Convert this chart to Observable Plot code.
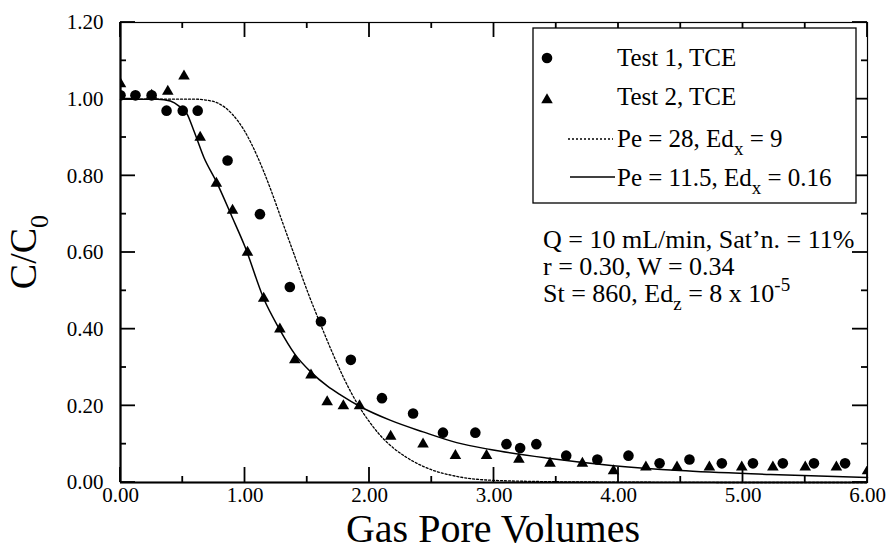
<!DOCTYPE html>
<html><head><meta charset="utf-8">
<script src="https://cdn.jsdelivr.net/npm/d3@7"></script>
<script src="https://cdn.jsdelivr.net/npm/@observablehq/plot@0.6"></script>
<style>
body{margin:0;background:#fff;}
#chart{width:887px;height:552px;}
</style></head><body><div id="chart"></div>
<script>
// Test 1, TCE (circles)
const test1X = [0.00, 0.12, 0.25, 0.37, 0.50, 0.62, 0.86, 1.12, 1.36, 1.61, 1.85, 2.10, 2.35, 2.59, 2.85, 3.10, 3.21, 3.34, 3.58, 3.83, 4.08, 4.33, 4.57, 4.83, 5.08, 5.32, 5.57, 5.82];
const test1Y = [1.01, 1.01, 1.01, 0.97, 0.97, 0.97, 0.84, 0.70, 0.51, 0.42, 0.32, 0.22, 0.18, 0.13, 0.13, 0.10, 0.09, 0.10, 0.07, 0.06, 0.07, 0.05, 0.06, 0.05, 0.05, 0.05, 0.05, 0.05];
// Test 2, TCE (triangles)
const test2X = [0.00, 0.25, 0.38, 0.51, 0.64, 0.77, 0.90, 1.02, 1.15, 1.28, 1.40, 1.53, 1.66, 1.79, 1.92, 2.17, 2.43, 2.69, 2.94, 3.20, 3.45, 3.71, 3.96, 4.22, 4.47, 4.73, 4.99, 5.24, 5.50, 5.75, 6.00];
const test2Y = [1.04, 1.01, 1.02, 1.06, 0.90, 0.78, 0.71, 0.60, 0.48, 0.40, 0.32, 0.28, 0.21, 0.20, 0.20, 0.12, 0.10, 0.07, 0.07, 0.06, 0.05, 0.05, 0.03, 0.04, 0.04, 0.04, 0.04, 0.04, 0.04, 0.04, 0.03];
// Model: Pe = 28, Edx = 9 (dotted)
const fitAX = [0.00, 0.60, 0.70, 0.78, 0.90, 1.00, 1.10, 1.20, 1.30, 1.40, 1.50, 1.60, 1.70, 1.80, 1.90, 2.00, 2.10, 2.20, 2.30, 2.46, 2.70, 2.97, 3.50, 4.00, 5.00, 6.00];
const fitAY = [1.000, 1.000, 0.997, 0.990, 0.960, 0.915, 0.850, 0.770, 0.680, 0.590, 0.500, 0.418, 0.340, 0.268, 0.207, 0.158, 0.118, 0.088, 0.065, 0.038, 0.016, 0.006, 0.002, 0.001, 0.000, 0.000];
// Model: Pe = 11.5, Edx = 0.16 (solid)
const fitBX = [0.00, 0.30, 0.40, 0.47, 0.535, 0.59, 0.67, 0.77, 0.90, 1.00, 1.15, 1.27, 1.40, 1.53, 1.66, 1.77, 1.92, 2.17, 2.43, 2.70, 2.97, 3.42, 3.96, 4.49, 5.22, 6.00];
const fitBY = [1.000, 1.000, 0.995, 0.982, 0.961, 0.917, 0.848, 0.785, 0.690, 0.615, 0.480, 0.404, 0.335, 0.288, 0.252, 0.228, 0.199, 0.162, 0.132, 0.104, 0.086, 0.064, 0.044, 0.031, 0.021, 0.013];

const xMajorTicks = [0, 1, 2, 3, 4, 5, 6];
const xMinorTicks = [0.5, 1.5, 2.5, 3.5, 4.5, 5.5];
const yMajorTicks = [0, 0.2, 0.4, 0.6, 0.8, 1.0, 1.2];
const yMinorTicks = [0.1, 0.3, 0.5, 0.7, 0.9, 1.1];

const legendLabels = ["Test 1, TCE", "Test 2, TCE", "Pe = 28, Ed", "Pe = 11.5, Ed"];
const xTitle = "Gas Pore Volumes";

const zip = (xs, ys) => xs.map((x, i) => ({x, y: ys[i]}));
const test1 = zip(test1X, test1Y);
const test2 = zip(test2X, test2Y);
const fitA = zip(fitAX, fitAY);
const fitB = zip(fitBX, fitBY);
const fmt = d => d.toFixed(2);

const font = "Liberation Serif, Times New Roman, serif";
const MAJ = 15, MIN = 6;
const X0 = 0, X1 = 6, Y0 = 0, Y1 = 1.2;

const chart = Plot.plot({
  width: 887,
  height: 552,
  marginLeft: 120,
  marginRight: 20,
  marginTop: 22,
  marginBottom: 70,
  style: {fontFamily: font, fontSize: "21px", color: "black"},
  x: {domain: [X0, X1]},
  y: {domain: [Y0, Y1]},
  marks: [
    Plot.line(fitA, {x: "x", y: "y", stroke: "black", strokeWidth: 1.3, strokeDasharray: "2,2", curve: "monotone-x"}),
    Plot.line(fitB, {x: "x", y: "y", stroke: "black", strokeWidth: 1.5, curve: "monotone-x"}),
    Plot.dot(test1, {x: "x", y: "y", r: 5.3, fill: "black", symbol: "circle", clip: true}),
    Plot.dot(test2, {x: "x", y: "y", r: 4.3, fill: "black", symbol: "triangle", clip: true}),
    Plot.axisX(xMajorTicks, {anchor: "bottom", tickSize: 0, tickPadding: 5, tickFormat: fmt, fontSize: 21, label: null}),
    Plot.axisY(yMajorTicks, {anchor: "left", tickSize: 0, tickPadding: 17, tickFormat: fmt, fontSize: 21, label: null}),
    Plot.frame({stroke: "black", strokeWidth: 1.2}),
    Plot.ruleX([X0], {stroke: "black", strokeWidth: 2.2}),
    Plot.ruleY([Y0], {stroke: "black", strokeWidth: 2.2})
  ]
});
document.getElementById("chart").appendChild(chart);

const svg = d3.select(chart);
// inward ticks on all four sides, placed with the plot's own scales
const sx = chart.scale("x"), sy = chart.scale("y");
const px0 = sx.apply(X0), px1 = sx.apply(X1), py0 = sy.apply(Y0), py1 = sy.apply(Y1);
const tg = svg.append("g").attr("stroke", "black").attr("stroke-width", 1.8);
const addXTicks = (vals, len) => vals.forEach(v => {
  const px = sx.apply(v);
  tg.append("line").attr("x1", px).attr("x2", px).attr("y1", py0).attr("y2", py0 - len);
  tg.append("line").attr("x1", px).attr("x2", px).attr("y1", py1).attr("y2", py1 + len);
});
const addYTicks = (vals, len) => vals.forEach(v => {
  const py = sy.apply(v);
  tg.append("line").attr("y1", py).attr("y2", py).attr("x1", px0).attr("x2", px0 + len);
  tg.append("line").attr("y1", py).attr("y2", py).attr("x1", px1).attr("x2", px1 - len);
});
addXTicks(xMajorTicks, MAJ); addXTicks(xMinorTicks, MIN);
addYTicks(yMajorTicks, MAJ); addYTicks(yMinorTicks, MIN);

// overlay text, legend (drawn into the same SVG)
const ns = svg.append("g").attr("font-family", font).attr("fill", "black").attr("text-anchor", "start");

// axis titles
ns.append("text").attr("x", 493).attr("y", 542).attr("text-anchor", "middle")
  .attr("font-size", 40).text(xTitle);
const yt = ns.append("text").attr("transform", "translate(36,252) rotate(-90)")
  .attr("text-anchor", "middle").attr("font-size", 38);
yt.append("tspan").text("C/C");
yt.append("tspan").attr("font-size", 26).attr("dy", 12).text("0");

// legend box
const lg = ns.append("g");
lg.append("rect").attr("x", 533).attr("y", 28).attr("width", 323).attr("height", 175)
  .attr("fill", "white").attr("stroke", "black").attr("stroke-width", 1.3);
lg.append("circle").attr("cx", 547).attr("cy", 58).attr("r", 5.3);
lg.append("path").attr("d", d3.symbol(d3.symbolTriangle, Math.PI * 4.3 * 4.3)())
  .attr("transform", "translate(547,100)");
lg.append("line").attr("x1", 568).attr("x2", 613).attr("y1", 139).attr("y2", 139)
  .attr("stroke", "black").attr("stroke-width", 1.3).attr("stroke-dasharray", "2,2");
lg.append("line").attr("x1", 570).attr("x2", 615).attr("y1", 177).attr("y2", 177)
  .attr("stroke", "black").attr("stroke-width", 1.5);
const lf = 25;
lg.append("text").attr("x", 617).attr("y", 66).attr("font-size", lf).text(legendLabels[0]);
lg.append("text").attr("x", 617).attr("y", 105).attr("font-size", lf).text(legendLabels[1]);
const l3 = lg.append("text").attr("x", 617).attr("y", 147).attr("font-size", lf);
l3.append("tspan").text(legendLabels[2]);
l3.append("tspan").attr("font-size", 19).attr("dy", 8).text("x");
l3.append("tspan").attr("dy", -8).text(" = 9");
const l4 = lg.append("text").attr("x", 617).attr("y", 186).attr("font-size", lf);
l4.append("tspan").text(legendLabels[3]);
l4.append("tspan").attr("font-size", 19).attr("dy", 8).text("x");
l4.append("tspan").attr("dy", -8).text(" = 0.16");

// parameters annotation
const af = 26;
ns.append("text").attr("x", 543).attr("y", 248).attr("font-size", af).text("Q = 10 mL/min, Sat\u2019n. = 11%");
ns.append("text").attr("x", 543).attr("y", 275).attr("font-size", af).text("r = 0.30, W = 0.34");
const a3 = ns.append("text").attr("x", 543).attr("y", 302).attr("font-size", af);
a3.append("tspan").text("St = 860, Ed");
a3.append("tspan").attr("font-size", 19).attr("dy", 8).text("z");
a3.append("tspan").attr("dy", -8).text(" = 8 x 10");
a3.append("tspan").attr("font-size", 19).attr("dy", -11).text("-5");
</script></body></html>
